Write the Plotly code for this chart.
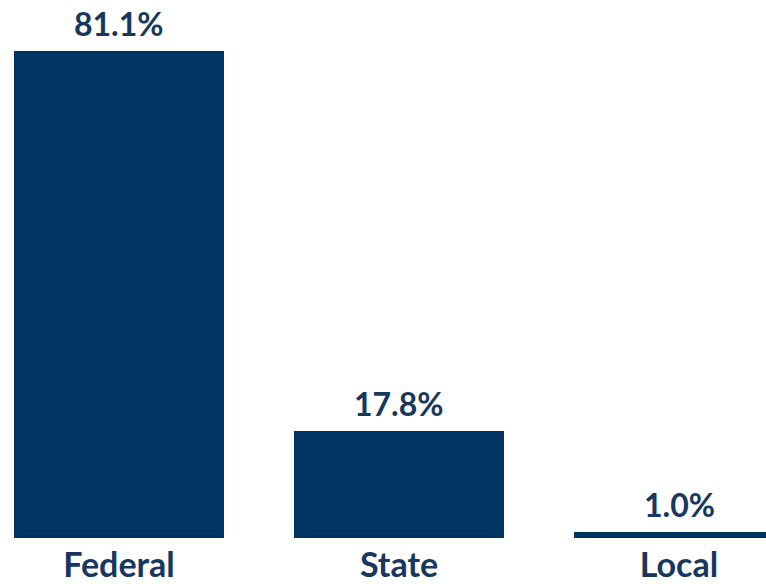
import plotly.graph_objects as go

categories = ["Federal", "State", "Local"]
values = [81.1, 17.8, 1.0]
value_labels = ["81.1%", "17.8%", "1.0%"]

bar_color = "#003462"
text_color = "#17375e"
font_family = "Lato"

fig = go.Figure()
fig.add_trace(go.Bar(
    x=categories, y=values,
    marker=dict(color=bar_color, line=dict(width=0)),
    width=0.75,
    hoverinfo="skip",
))

for c, v, t in zip(categories, values, value_labels):
    fig.add_annotation(
        x=c, y=v, text="<b>%s</b>" % t, showarrow=False,
        yanchor="bottom", yshift=6,
        font=dict(family=font_family, size=32, color=text_color),
    )

fig.update_layout(
    width=766, height=584,
    margin=dict(l=0, r=0, t=0, b=46),
    paper_bgcolor="white", plot_bgcolor="white",
    showlegend=False,
    xaxis=dict(
        type="category", range=[-0.425, 2.3107],
        showgrid=False, zeroline=False, showline=False, ticks="",
        tickfont=dict(family=font_family, size=34, color=text_color),
        tickvals=categories,
        ticktext=["<b>%s</b>" % c for c in categories],
        ticklabelstandoff=4,
    ),
    yaxis=dict(range=[0, 89.59], visible=False),
)

fig.write_html(
    "out.html",
    config={"displayModeBar": False, "staticPlot": True},
    post_script="document.body.style.margin='0px';document.body.style.overflow='hidden';",
)
